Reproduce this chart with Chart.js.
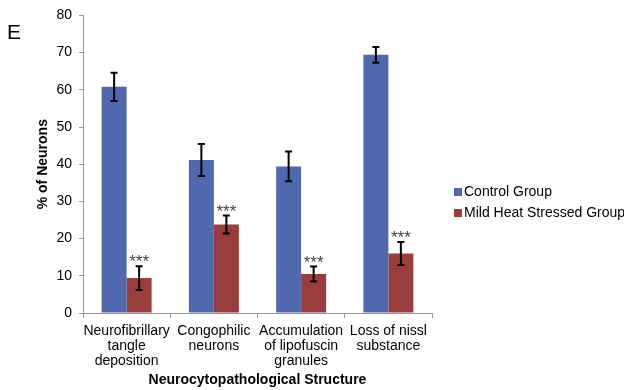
<!DOCTYPE html>
<html>
<head>
<meta charset="utf-8">
<script src="https://cdn.jsdelivr.net/npm/chart.js@4.4.0/dist/chart.umd.min.js"></script>
<style>
  body { margin: 0; background: #fff; }
  #wrap { position: relative; width: 624px; height: 390px; }
</style>
</head>
<body>
<div id="wrap"><canvas id="neurons" width="624" height="390"></canvas></div>
<script>
const categories = [
  ['Neurofibrillary', 'tangle', 'deposition'],
  ['Congophilic', 'neurons'],
  ['Accumulation', 'of lipofuscin', 'granules'],
  ['Loss of nissl', 'substance']
]
const controlValues = [60.8, 41.1, 39.4, 69.4]
const controlErr = [3.8, 4.3, 4.0, 2.1]
const stressValues = [9.4, 23.8, 10.5, 16.0]
const stressErr = [3.2, 2.4, 2.0, 3.1]
const stressMarks = ['***', '***', '***', '***']

const errorBars = {
  id: 'errorBars',
  afterDatasetsDraw(chart) {
    const ctx = chart.ctx
    const y = chart.scales.y
    ctx.save()
    chart.data.datasets.forEach((ds, i) => {
      const meta = chart.getDatasetMeta(i)
      meta.data.forEach((bar, j) => {
        const top = y.getPixelForValue(ds.data[j] + ds.err[j])
        const bot = y.getPixelForValue(ds.data[j] - ds.err[j])
        ctx.strokeStyle = '#000'
        ctx.lineWidth = 2
        ctx.beginPath()
        ctx.moveTo(bar.x, top); ctx.lineTo(bar.x, bot)
        ctx.moveTo(bar.x - 3.5, top); ctx.lineTo(bar.x + 3.5, top)
        ctx.moveTo(bar.x - 3.5, bot); ctx.lineTo(bar.x + 3.5, bot)
        ctx.stroke()
        if (ds.marks) {
          ctx.fillStyle = '#444'
          ctx.font = '17px "Liberation Sans", Arial, sans-serif'
          ctx.textAlign = 'center'
          ctx.textBaseline = 'alphabetic'
          ctx.fillText(ds.marks[j], bar.x, top + 1)
        }
      })
    })
    ctx.restore()
  }
}

const sideLegend = {
  id: 'sideLegend',
  afterDraw(chart) {
    const ctx = chart.ctx
    ctx.save()
    ctx.font = '14px "Liberation Sans", Arial, sans-serif'
    ctx.textBaseline = 'middle'
    ctx.textAlign = 'left'
    chart.data.datasets.forEach((ds, i) => {
      const cy = 192 + i * 21
      ctx.fillStyle = ds.backgroundColor
      ctx.fillRect(454, cy - 4, 8, 8)
      ctx.fillStyle = '#000'
      ctx.fillText(ds.label, 464, cy)
    })
    ctx.font = '21px "Liberation Sans", Arial, sans-serif'
    ctx.textBaseline = 'alphabetic'
    ctx.fillText('E', 7, 39)
    ctx.restore()
  }
}

new Chart('neurons', {
  type: 'bar',
  data: {
    labels: categories,
    datasets: [{
      label: 'Control Group',
      data: controlValues,
      err: controlErr,
      backgroundColor: '#4f68ae'
    }, {
      label: 'Mild Heat Stressed Group',
      data: stressValues,
      err: stressErr,
      marks: stressMarks,
      backgroundColor: '#9a3e3d'
    }]
  },
  options: {
    responsive: false,
    animation: false,
    layout: { padding: { left: 0, right: 192, top: 14, bottom: 0 } },
    datasets: { bar: { categoryPercentage: 0.573, barPercentage: 1 } },
    plugins: {
      legend: { display: false },
      tooltip: { enabled: false }
    },
    scales: {
      x: {
        grid: { offset: true, drawOnChartArea: false, color: '#999', tickLength: 5 },
        border: { color: '#999' },
        ticks: {
          color: '#000', padding: 5, maxRotation: 0, autoSkip: false,
          font: { family: '"Liberation Sans", Arial, sans-serif', size: 14, lineHeight: 1.1 }
        },
        title: {
          display: true, text: 'Neurocytopathological Structure', color: '#000',
          padding: { top: 0, bottom: 1 },
          font: { family: '"Liberation Sans", Arial, sans-serif', size: 14, weight: 'bold' }
        },
        afterFit(scale) { scale.height = 77 }
      },
      y: {
        min: 0,
        max: 80,
        ticks: {
          stepSize: 10, color: '#000', padding: 7,
          font: { family: '"Liberation Sans", Arial, sans-serif', size: 14 }
        },
        grid: { drawOnChartArea: false, color: '#999', tickLength: 4 },
        border: { color: '#999' },
        title: {
          display: true, text: '% of Neurons', color: '#000',
          padding: { top: 35, bottom: 0 },
          font: { family: '"Liberation Sans", Arial, sans-serif', size: 14, weight: 'bold' }
        },
        afterFit(scale) { scale.width = 83 }
      }
    }
  },
  plugins: [errorBars, sideLegend]
})
</script>
</body>
</html>
